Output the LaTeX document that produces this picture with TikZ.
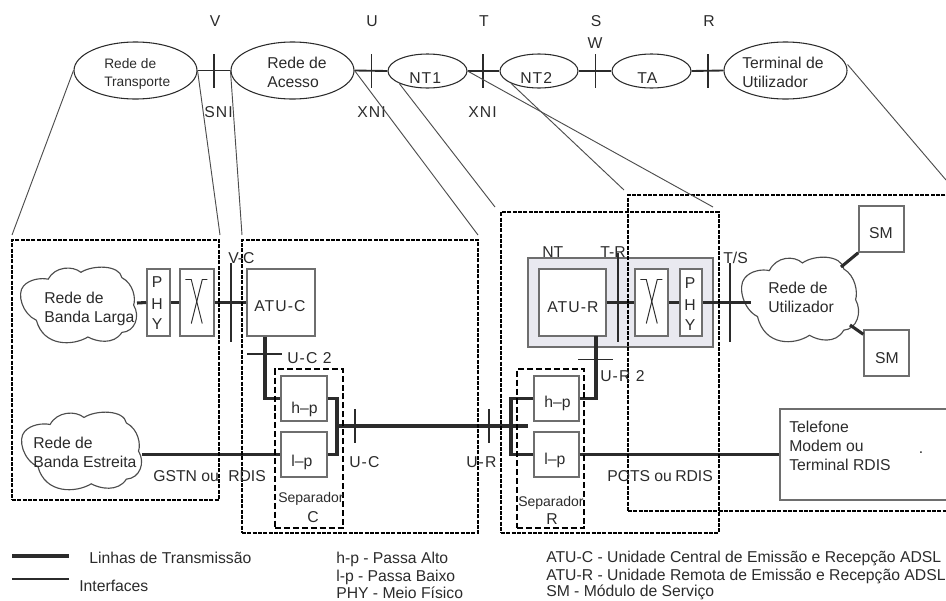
\documentclass[tikz,border=0pt]{standalone}
\usepackage{fontspec}
\setmainfont{Liberation Sans}
\newfontfamily\spfont[LetterSpace=7]{Liberation Sans}
\usetikzlibrary{shapes.geometric,calc}
\definecolor{ink}{HTML}{2B2B2B}
\definecolor{edge}{HTML}{6E6E6E}
\definecolor{nfill}{HTML}{E9E9F0}
\tikzset{
  fs/.style={font=\fontsize{#1}{#1}\selectfont},
  lab/.style={inner sep=0,anchor=base west,text=ink,fs=11.8},
  clab/.style={inner sep=0,anchor=base,text=ink,fs=11.8},
  slab/.style={lab,font=\spfont\fontsize{11.8}{11.8}\selectfont},
  oval/.style={ellipse,draw=ink,line width=0.8pt,inner sep=0},
  boxn/.style={rectangle,draw=edge,line width=1.1pt,inner sep=0},
  dbox/.style={rectangle,draw=black,line width=0.85pt,dash pattern=on 3pt off 1pt,inner sep=0},
  sbox/.style={rectangle,draw=black,line width=1.1pt,dash pattern=on 4.5pt off 2.2pt,inner sep=0},
  heavy/.style={draw=ink,line width=2.3pt},
  main/.style={draw=ink,line width=2.9pt},
  mid/.style={draw=ink,line width=1.9pt},
  link/.style={draw=ink,line width=1.4pt},
  tick/.style={draw=ink,line width=1.2pt},
  tickb/.style={draw=ink,line width=1.7pt},
  thin/.style={draw=ink,line width=0.7pt},
  zoomln/.style={draw=edge!70!black,line width=0.7pt},
  cloudln/.style={draw=edge!70!black,line width=0.85pt},
}
% name, x1, y1, x2, y2, style, text
\newcommand{\bx}[7]{\node[#6,minimum width={(#4-#2)*0.75pt},minimum height={(#5-#3)*0.75pt}] (#1) at ({(#2+#4)/2},{(#3+#5)/2}) {#7};}
% x0,y0,w,h : cloud outline
\newcommand{\cloudshape}[4]{%
  \begin{scope}[shift={(#1,#2)},x=#3*0.0075pt,y=-#4*0.0075pt]
  \draw[cloudln,fill=white] (24,16) .. controls (30,-1) and (45,-2) .. (52,7)
    .. controls (62,-3) and (85,-3) .. (87,14)
    .. controls (97,22) and (99,42) .. (97,50)
    .. controls (103,65) and (98,85) .. (87,86)
    .. controls (80,103) and (65,98) .. (58,92)
    .. controls (45,104) and (20,105) .. (14,70)
    .. controls (2,62) and (-3,35) .. (3,25)
    .. controls (8,16) and (18,14) .. (24,16) -- cycle;
  \end{scope}}
\newcommand{\xmark}[1]{%
  \draw[thin,draw=ink] ($(#1.west)+(6,-23)$) -- ($(#1.west)+(12,-23)$) -- ($(#1.west)+(23,21)$);
  \draw[thin,draw=ink] ($(#1.west)+(28,-23)$) -- ($(#1.west)+(23,-23)$) -- ($(#1.west)+(12,21)$);}
\begin{document}
\begin{tikzpicture}[x=0.75pt,y=-0.75pt]
\useasboundingbox (0,0) rectangle (946,600);
\clip (0,0) rectangle (946,600);

% --- top row
\bx{transp}{74}{42}{197}{99}{oval}{}
\bx{acc}{231}{42}{354}{99}{oval}{}
\bx{ntone}{388}{54}{467}{88}{oval}{}
\bx{nttwo}{500}{54}{578}{88}{oval}{}
\bx{ta}{612}{54}{691}{88}{oval}{}
\bx{term}{724}{42}{847}{99}{oval}{}
\draw[link] (transp.east) -- (acc.west);
\draw[link] (acc.east) -- (ntone.west);
\draw[link] (ntone.east) -- (nttwo.west);
\draw[link] (nttwo.east) -- (ta.west);
\draw[link] (ta.east) -- (term.west);
\foreach \n/\x in {tv/214,tu/371.5,tt/483,ts/595.5,tr/708}{
  \coordinate (\n a) at (\x,54); \coordinate (\n b) at (\x,88);
  \draw[tick] (\n a) -- (\n b);}

\node[clab] (lv) at (215,26) {V};
\node[clab] (lu) at (372,26) {U};
\node[clab] (lt) at (484,26) {T};
\node[clab] (ls) at (596,26) {S};
\node[clab] (lw) at (595,48) {W};
\node[clab] (lr) at (709,26) {R};
\node[slab] (lsni) at (204,117) {SNI};
\node[slab] (lxa) at (357,117) {XNI};
\node[slab] (lxb) at (468,117) {XNI};
\node[lab,fs=10.3] (t1) at (104,68) {Rede de};
\node[lab,fs=10.3] (t2) at (104,86) {Transporte};
\node[lab] (t3) at (267,68) {Rede de};
\node[lab] (t4) at (267,87) {Acesso};
\node[slab] (t5) at (409,83) {NT1};
\node[slab] (t6) at (520,83) {NT2};
\node[slab] (t7) at (637,83) {TA};
\node[lab] (t8) at (742,68) {Terminal de};
\node[lab] (t9) at (742,87) {Utilizador};

% --- NT housing
\bx{nthouse}{528}{258}{713}{347}{boxn,fill=nfill}{}

% --- boxes
\bx{phyl}{147}{269}{170}{336}{boxn}{}
\bx{xl}{180}{269}{214}{336}{boxn}{}
\bx{atuc}{247}{269}{315}{336}{boxn}{}
\bx{atur}{539}{269}{606}{336}{boxn,fill=white}{}
\bx{xr}{635}{269}{668}{336}{boxn,fill=white}{}
\bx{phyr}{680}{269}{702}{336}{boxn,fill=white}{}
\xmark{xl}
\xmark{xr}
\bx{hpl}{281}{376}{327}{421}{boxn}{}
\bx{lpl}{281}{432}{327}{477}{boxn}{}
\bx{hpr}{534}{376}{579}{421}{boxn}{}
\bx{lpr}{534}{432}{579}{477}{boxn}{}
\bx{tel}{780}{409}{960}{500}{boxn}{}
\bx{smt}{859}{206}{904}{252}{boxn}{}
\bx{smb}{864}{330}{909}{376}{boxn}{}

% --- clouds
\cloudshape{20}{267}{117}{76}
\cloudshape{21}{412}{121}{78}
\cloudshape{741}{257}{118}{85}
\coordinate (cla) at (137,303);
\coordinate (clb) at (142,454.5);
\coordinate (clc) at (751,302.5);
\coordinate (cltop) at (841,267);
\coordinate (clbot) at (850,325);

% --- transmission lines
\draw[heavy] (cla) -- (phyl.west);
\draw[heavy] (phyl.east) -- (xl.west);
\draw[heavy] (xl.east) -- (atuc.west);
\draw[heavy] (atur.east) -- (xr.west);
\draw[heavy] (xr.east) -- (phyr.west);
\draw[heavy] (phyr.east) -- (clc);
\draw[heavy] (cltop) -- (smt.south west);
\draw[heavy] (clbot) -- ($(smb.north west)+(0,5)$);

\coordinate (jl) at (337,426);
\coordinate (jr) at (528,426);
\draw[main] (jl) -- (jr);
\draw[heavy] (hpl.east) -| (jl |- lpl.east) -- (lpl.east);
\draw[heavy] (hpr.west) -| (511,454.5) -- (lpr.west);
\draw[heavy] (atuc.south -| 265,0) |- (hpl.west);
\draw[heavy] (hpr.east) -| (596,336);
\draw[mid] (clb) -- (lpl.west);
\draw[mid] (lpr.east) -- (tel.west);

% --- interface ticks
\coordinate (vca) at (231,263); \coordinate (vcb) at (231,342);
\coordinate (tra) at (618,253); \coordinate (trb) at (618,342);
\coordinate (tsa) at (730,263); \coordinate (tsb) at (730,342);
\coordinate (uca) at (355,409); \coordinate (ucb) at (355,443);
\coordinate (ura) at (489,409); \coordinate (urb) at (489,443);
\coordinate (ucta) at (247,354); \coordinate (uctb) at (282,354);
\coordinate (urta) at (578,359); \coordinate (urtb) at (613,359);
\draw[tickb] (vca) -- (vcb);
\draw[tickb] (tra) -- (trb);
\draw[tickb] (tsa) -- (tsb);
\draw[tick] (uca) -- (ucb);
\draw[tick] (ura) -- (urb);
\draw[tick] (ucta) -- (uctb);
\draw[thin] (urta) -- (urtb);

% --- dashed frames
\bx{fa}{12}{240}{219}{500}{dbox}{}
\bx{fb}{242}{240}{478}{533}{dbox}{}
\bx{fc}{501}{212}{719}{533}{dbox}{}
\bx{fd}{628}{195}{970}{511}{dbox}{}
\bx{sc}{275}{369}{343}{528}{sbox}{}
\bx{sr}{517}{369}{584}{528}{sbox}{}

% --- zoom lines
\coordinate (za) at (12,235);
\coordinate (zb) at (220,235);
\coordinate (zc) at (242,235);
\coordinate (zd) at (478,235);
\coordinate (ze) at (495,207);
\coordinate (zf) at (713,207);
\coordinate (zg) at (624,190);
\coordinate (zh) at (946,180);
\draw[zoomln] (transp.west) -- (za);
\draw[zoomln] (transp.east) -- (zb);
\draw[zoomln] (acc.west) -- (zc);
\draw[zoomln] (acc.east) -- (zd);
\draw[zoomln] (ntone.south west) -- (ze);
\draw[zoomln] (ntone.east) -- (zf);
\draw[zoomln] (nttwo.south west) -- (zg);
\draw[zoomln] ($(term.east)+(0,-6)$) -- (zh);

% --- diagram labels
\node[lab] (a1) at (44,303) {Rede de};
\node[lab] (a2) at (44,322) {Banda Larga};
\node[lab] (a3) at (33,448) {Rede de};
\node[lab] (a4) at (33,467) {Banda Estreita};
\node[lab] (a5) at (768,293) {Rede de};
\node[lab] (a6) at (768,312) {Utilizador};
\node[clab] (p1) at (157,287) {P};
\node[clab] (p2) at (157,309) {H};
\node[clab] (p3) at (157,329) {Y};
\node[clab] (p4) at (690,288) {P};
\node[clab] (p5) at (690,310) {H};
\node[clab] (p6) at (690,330) {Y};
\node[lab] (b1) at (228,263) {V-C};
\node[slab] (b2) at (254,311) {ATU-C};
\node[slab] (b3) at (547,312) {ATU-R};
\node[lab] (b4) at (542,257) {NT};
\node[lab] (b5) at (600,257) {T-R};
\node[lab] (b6) at (723,263) {T/S};
\node[clab] (b7) at (881,238) {SM};
\node[clab] (b8) at (887,363) {SM};
\node[slab] (b9) at (287,363) {U-C 2};
\node[slab] (b10) at (600,381) {U-R 2};
\node[lab] (c1) at (291,413) {h--p};
\node[lab] (c2) at (291,466) {l--p};
\node[lab] (c3) at (544,407) {h--p};
\node[lab] (c4) at (544,464) {l--p};
\node[lab,fs=10.5] (c5) at (278,502) {Separador};
\node[clab] (c6) at (313,522) {C};
\node[lab,fs=10.5] (c7) at (518,506) {Separador};
\node[clab] (c8) at (552,524) {R};
\node[slab] (c9) at (349,467) {U-C};
\node[slab] (c10) at (466,467) {U-R};
\node[lab] (d1) at (153,481) {GSTN ou};
\node[lab] (d2) at (228,481) {RDIS};
\node[lab] (d3) at (607,481) {POTS ou};
\node[lab] (d4) at (675,481) {RDIS};
\node[lab] (e1) at (789,432) {Telefone};
\node[lab] (e2) at (789,451) {Modem ou};
\node[lab] (e3) at (789,470) {Terminal RDIS};
\node[clab] (e4) at (921,453) {.};

% --- legend
\coordinate (la) at (12,556); \coordinate (lb) at (69,556);
\coordinate (lc) at (12,579); \coordinate (ld) at (69,579);
\draw[draw=ink,line width=2.9pt] (la) -- (lb);
\draw[draw=ink,line width=1.1pt] (lc) -- (ld);
\node[lab] (f1) at (89,563) {Linhas de Transmissão};
\node[lab] (f2) at (79,591) {Interfaces};
\node[lab] (f3) at (336,563) {h-p - Passa Alto};
\node[lab] (f4) at (336,581) {l-p - Passa Baixo};
\node[lab] (f5) at (336,598) {PHY - Meio Físico};
\node[lab] (f6) at (546,562) {ATU-C - Unidade Central de Emissão e Recepção ADSL};
\node[lab] (f7) at (546,580) {ATU-R - Unidade Remota de Emissão e Recepção ADSL};
\node[lab] (f8) at (546,596.5) {SM - Módulo de Serviço};
\end{tikzpicture}
\end{document}
